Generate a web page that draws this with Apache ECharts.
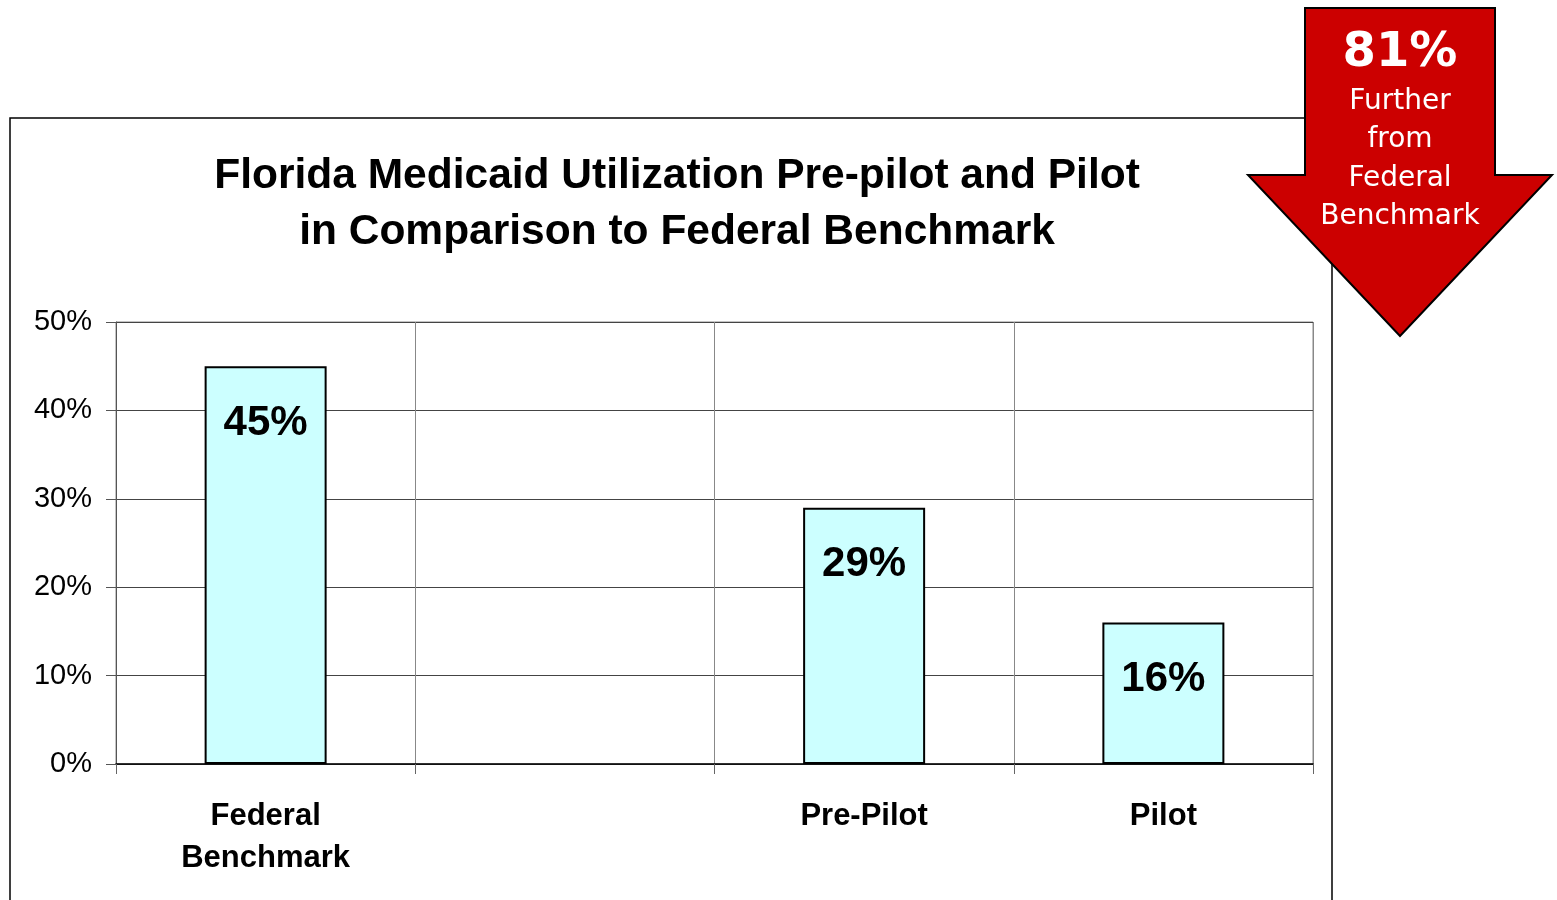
<!DOCTYPE html>
<html>
<head>
<meta charset="utf-8">
<script src="https://cdn.jsdelivr.net/npm/echarts@6/dist/echarts.min.js"></script>
<style>
  html, body { margin: 0; padding: 0; background: #fff; }
  #main { width: 1557px; height: 900px; }
</style>
</head>
<body>
<div id="main"></div>
<script>
// chart data
var categories = ['Federal\nBenchmark', '', 'Pre-Pilot', 'Pilot']
var utilization = [45, null, 29, 16]
var yTicks = [0, 10, 20, 30, 40, 50]
var titleLines = ['Florida Medicaid Utilization Pre-pilot and Pilot', 'in Comparison to Federal Benchmark']
var calloutLines = ['81%', 'Further', 'from', 'Federal', 'Benchmark']

var chart = echarts.init(document.getElementById('main'))

var option = {
  backgroundColor: '#fff',
  animation: false,
  textStyle: { fontFamily: 'Liberation Sans, Arial, sans-serif' },

  title: {
    text: titleLines.join('\n'),
    left: 672,
    textAlign: 'center',
    top: 143,
    textStyle: {
      fontSize: 42.5,
      fontWeight: 'bold',
      color: '#000',
      lineHeight: 56,
      fontFamily: 'Liberation Sans, Arial, sans-serif'
    }
  },

  grid: {
    left: 116,
    right: 244,
    top: 322,
    bottom: 136,
    show: true,
    borderColor: '#888',
    borderWidth: 1
  },

  xAxis: {
    type: 'category',
    data: categories,
    boundaryGap: true,
    axisLine: { lineStyle: { color: '#000', width: 1.5 } },
    axisTick: { show: true, length: 10, lineStyle: { color: '#666' } },
    splitLine: { show: true, lineStyle: { color: '#888', width: 1 } },
    axisLabel: {
      margin: 31,
      fontSize: 31,
      fontWeight: 'bold',
      color: '#000',
      lineHeight: 42,
      interval: 0
    }
  },

  yAxis: {
    type: 'value',
    min: yTicks[0],
    max: yTicks[yTicks.length - 1],
    interval: 10,
    axisLine: { show: true, lineStyle: { color: '#555', width: 1 } },
    axisTick: { show: true, length: 10, lineStyle: { color: '#555' } },
    splitLine: { lineStyle: { color: '#444', width: 1 } },
    axisLabel: {
      formatter: '{value}%',
      fontSize: 29,
      color: '#000',
      margin: 24,
      lineHeight: 36,
      verticalAlign: 'middle',
      padding: [6, 0, 0, 0]
    }
  },

  series: [
    {
      type: 'bar',
      data: utilization,
      barWidth: 122,
      itemStyle: {
        color: '#CCFFFF',
        borderColor: '#000',
        borderWidth: 2
      },
      label: {
        show: true,
        position: 'insideTop',
        distance: 36,
        formatter: '{c}%',
        fontSize: 42,
        fontWeight: 'bold',
        color: '#000'
      }
    }
  ],

  graphic: [
    {
      // outer chart frame
      type: 'rect',
      z: 1,
      shape: { x: 10, y: 118, width: 1322, height: 800 },
      style: { fill: 'none', stroke: '#000', lineWidth: 1.5 }
    },
    {
      // red callout arrow
      type: 'polygon',
      z: 10,
      shape: {
        points: [[1305, 8], [1495, 8], [1495, 175], [1552, 175], [1400, 336], [1248, 175], [1305, 175]]
      },
      style: { fill: '#CC0000', stroke: '#000', lineWidth: 2 }
    },
    {
      type: 'text',
      z: 11,
      x: 1400,
      y: 54,
      style: {
        text: calloutLines[0],
        fill: '#fff',
        font: 'bold 48px "DejaVu Sans"',
        align: 'center',
        verticalAlign: 'middle'
      }
    },
    {
      type: 'text',
      z: 11,
      x: 1400,
      y: 82,
      style: {
        text: calloutLines.slice(1).join('\n'),
        fill: '#fff',
        font: '28px "DejaVu Sans"',
        lineHeight: 38.5,
        align: 'center',
        verticalAlign: 'top'
      }
    }
  ]
}

chart.setOption(option)
</script>
</body>
</html>
